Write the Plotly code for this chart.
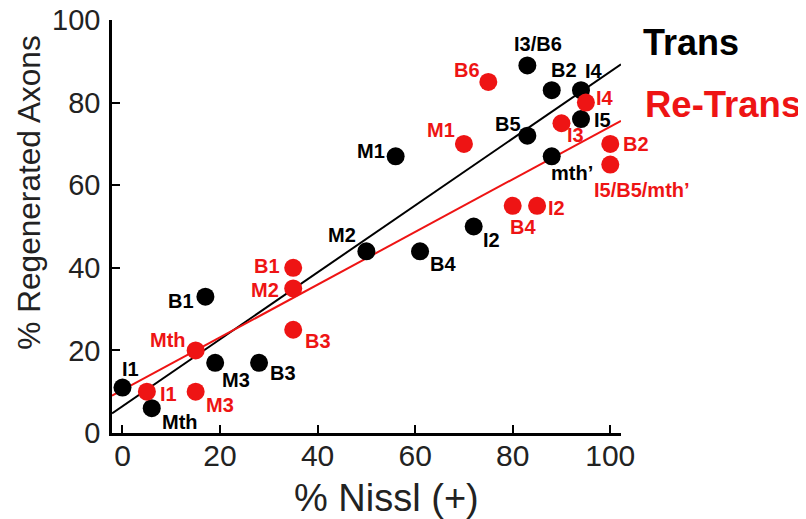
import plotly.graph_objects as go

# ---- data ----
trans_labels = ["I1", "Mth", "B1", "M3", "B3", "M2", "M1", "B4", "I2", "B5",
                "I3/B6", "B2", "I4", "I5", "mth\u2019"]
trans_x = [0, 6, 17, 19, 28, 50, 56, 61, 72, 83, 83, 88, 94, 94, 88]
trans_y = [11, 6, 33, 17, 17, 44, 67, 44, 50, 72, 89, 83, 83, 76, 67]

retrans_labels = ["I1", "Mth", "M3", "B1", "M2", "B3", "M1", "B6", "B4", "I2",
                  "I3", "I4", "B2", "I5/B5/mth\u2019"]
retrans_x = [5, 15, 15, 35, 35, 35, 70, 75, 80, 85, 90, 95, 100, 100]
retrans_y = [10, 20, 10, 40, 35, 25, 70, 85, 55, 55, 75, 80, 70, 65]

# regression lines (slope, intercept)
trans_fit = (0.81, 6.5)
retrans_fit = (0.638, 10.4)
fit_x_ends = [-2.15, 102.2]

x_ticks = [0, 20, 40, 60, 80, 100]
y_ticks = [0, 20, 40, 60, 80, 100]

x_title = "% Nissl (+)"
y_title = "% Regenerated Axons"

# ---- label offsets in pixels (dx right, dy down) ----
trans_off = [(8, -19), (28, 14), (-24, 4), (21, 17), (24, 10), (-24, -16),
             (-25, -5), (23, 13), (18, 13), (-19, -12), (11, -21), (12, -20),
             (13, -19), (21, 1), (20, 17)]
retrans_off = [(22, 2), (-28, -10), (24, 13), (-26, -2), (-28, 2), (25, 11),
               (-23, -14), (-21, -12), (10, 21), (19, 2), (14, 12), (19, -5),
               (26, 0), (32, 25)]

BLACK = "#000000"
RED = "#ee1414"
FONT = "Liberation Sans, Arial, sans-serif"

fig = go.Figure()

for (m, b), col in [(trans_fit, BLACK), (retrans_fit, RED)]:
    fig.add_trace(go.Scatter(
        x=fit_x_ends, y=[m * v + b for v in fit_x_ends], mode="lines",
        line=dict(color=col, width=2), hoverinfo="skip", showlegend=False,
        cliponaxis=False))

fig.add_trace(go.Scatter(x=trans_x, y=trans_y, mode="markers",
                         marker=dict(size=18, color=BLACK), showlegend=False,
                         cliponaxis=False, name="Trans"))
fig.add_trace(go.Scatter(x=retrans_x, y=retrans_y, mode="markers",
                         marker=dict(size=18, color=RED), showlegend=False,
                         cliponaxis=False, name="Re-Trans"))

annotations = []
for labels, xs, ys, offs, col in [
        (trans_labels, trans_x, trans_y, trans_off, BLACK),
        (retrans_labels, retrans_x, retrans_y, retrans_off, RED)]:
    for lab, xv, yv, (dx, dy) in zip(labels, xs, ys, offs):
        annotations.append(dict(
            x=xv, y=yv, xref="x", yref="y", text="<b>%s</b>" % lab,
            showarrow=False, xshift=dx, yshift=-dy,
            font=dict(family=FONT, size=20, color=col)))

annotations.append(dict(x=1.04, y=0.946, xref="paper", yref="paper",
                        text="<b>Trans</b>", showarrow=False, xanchor="left",
                        yanchor="middle",
                        font=dict(family=FONT, size=36, color=BLACK)))
annotations.append(dict(x=1.043, y=0.795, xref="paper", yref="paper",
                        text="<b>Re-Trans</b>", showarrow=False, xanchor="left",
                        yanchor="middle",
                        font=dict(family=FONT, size=36.5, color=RED)))
# axis titles (off-centre in the reference)
annotations.append(dict(x=0.54, y=-0.157, xref="paper", yref="paper",
                        text=x_title, showarrow=False, xanchor="center",
                        yanchor="middle",
                        font=dict(family=FONT, size=38, color="#222")))
annotations.append(dict(x=-0.163, y=0.582, xref="paper", yref="paper",
                        text=y_title, showarrow=False, textangle=-90,
                        xanchor="center", yanchor="middle",
                        font=dict(family=FONT, size=31.6, color="#222")))

fig.update_layout(
    width=798, height=511,
    margin=dict(l=104, r=185, t=12, b=86, autoexpand=False),
    paper_bgcolor="white", plot_bgcolor="white",
    font=dict(family=FONT, color=BLACK),
    annotations=annotations,
    xaxis=dict(range=[-2.15, 102.2], tickvals=x_ticks,
               ticktext=[str(v) for v in x_ticks], automargin=False,
               showgrid=False, zeroline=False, showline=True,
               linecolor=BLACK, linewidth=2.5, ticks="inside", ticklen=8,
               tickwidth=2, tickcolor=BLACK, ticklabelstandoff=-6,
               ticklabeloverflow="allow",
               tickfont=dict(family=FONT, size=30, color="#222")),
    yaxis=dict(range=[0, 100], tickvals=y_ticks,
               ticktext=[str(v) for v in y_ticks], automargin=False,
               showgrid=False, zeroline=False, showline=True,
               linecolor=BLACK, linewidth=2.5, ticks="inside", ticklen=8,
               tickwidth=2, tickcolor=BLACK, ticklabelstandoff=3,
               ticklabeloverflow="allow",
               tickfont=dict(family=FONT, size=29, color="#222")),
)

fig.write_html("out.html")
